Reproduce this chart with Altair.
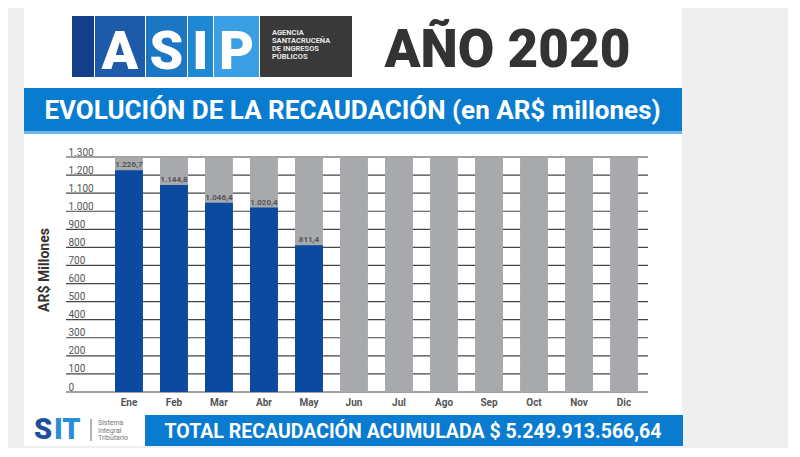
import altair as alt
import pandas as pd

# ---- data -------------------------------------------------------------
months = ["Ene", "Feb", "Mar", "Abr", "May", "Jun", "Jul", "Ago", "Sep", "Oct", "Nov", "Dic"]
values = [1226.7, 1144.8, 1046.4, 1020.4, 811.4, None, None, None, None, None, None, None]
value_labels = ["1.226,7", "1.144,8", "1.046,4", "1.020,4", "811,4", "", "", "", "", "", "", ""]
axis_max = 1300
y_ticks = [0, 100, 200, 300, 400, 500, 600, 700, 800, 900, 1000, 1100, 1200, 1300]

title_text = "EVOLUCIÓN DE LA RECAUDACIÓN (en AR$ millones)"
year_text = "AÑO 2020"
total_text = "TOTAL RECAUDACIÓN ACUMULADA $ 5.249.913.566,64"
y_title = "AR$ Millones"
logo_letters = ["A", "S", "I", "P"]
logo_caption = ["AGENCIA", "SANTACRUCEÑA", "DE INGRESOS", "PÚBLICOS"]
sit_caption = ["Sistema", "Integral", "Tributario"]

df = pd.DataFrame({"mes": months, "valor": values, "etiqueta": value_labels,
                   "tope": [axis_max] * len(months)})
ticks_df = pd.DataFrame({"tick": y_ticks})
one = pd.DataFrame({"k": [0]})

# ---- styles -----------------------------------------------------------
FONT = "Roboto"
W, H = 582, 235
BLUE_BAR = "#0b4a9f"
GRAY_BAR = "#a7a9ac"
BANNER = "#0a7ccf"

x_scale = alt.Scale(paddingInner=0.38, paddingOuter=0.656, align=0.83)
y_scale = alt.Scale(domain=[0, axis_max], nice=False, zero=True)
y_axis = alt.Axis(
    values=y_ticks, labelExpr="replace(format(datum.value, ',d'), ',', '.')",
    labelAlign="left", labelPadding=-2, labelBaseline="alphabetic", labelOffset=-2,
    labelOverlap=False, labelFlush=False,
    domain=False, ticks=False, tickSize=0, grid=False, labelFont=FONT,
    labelFontSize=10, labelColor="#555555", title=None, zindex=1)


def rect(x, x2, y, y2, color):
    return alt.Chart(one).mark_rect(color=color).encode(
        x=alt.value(x), x2=alt.value(x2), y=alt.value(y), y2=alt.value(y2))


def text(txt, x, y, size, color, weight="bold", align="center", baseline="alphabetic",
         angle=0, line_height=None):
    kw = dict(fontSize=size, color=color, fontWeight=weight, align=align,
              baseline=baseline, font=FONT)
    if angle:
        kw["angle"] = angle
    if line_height:
        kw["lineHeight"] = line_height
    return alt.Chart(one).mark_text(**kw).encode(
        x=alt.value(x), y=alt.value(y), text=alt.value(txt))


layers = []
# white card
layers.append(rect(-42, 616, -152, 289, "white"))

# ASIP logo
layers.append(rect(6, 28, -141, -80, "#143f88"))
layers.append(rect(29, 79, -141, -80, "#1d5aaa"))
layers.append(rect(80, 121, -141, -80, "#1b76c3"))
layers.append(rect(122, 147, -141, -80, "#1f88d3"))
layers.append(rect(148, 193, -141, -80, "#3a9fe3"))
layers.append(rect(194, 286, -141, -80, "#393939"))
for letter, cx in zip(logo_letters, [54, 100.5, 134.5, 170.5]):
    layers.append(text(letter, cx, -88, 54, "white", weight=900))
layers.append(text(logo_caption, 206, -128, 7.5, "#e6e6e6", align="left",
                   baseline="top", line_height=8))

# year
layers.append(text(year_text, 441.5, -90, 53, "#333333", weight=900))

# top banner
layers.append(rect(-42, 616, -69, -26, BANNER))
layers.append(rect(-42, 616, -26, -23, "#6fb5ea"))
layers.append(text(title_text, 286.5, -38, 26, "white"))

# y title
layers.append(text(y_title, -21, 113, 14, "#333333", angle=270, baseline="middle"))

# gridlines (carry the y axis)
layers.append(alt.Chart(ticks_df).mark_rule(color="#454545", strokeWidth=1.2).encode(
    y=alt.Y("tick:Q", scale=y_scale, axis=y_axis),
    x=alt.value(0), x2=alt.value(W)))

x_enc = alt.X("mes:N", sort=months, scale=x_scale, axis=alt.Axis(
    labelAngle=0, labelFont=FONT, labelFontSize=10, labelColor="#555555",
    labelFontWeight="bold", labelPadding=5, domain=False, ticks=False, tickSize=0,
    grid=False, title=None, zindex=1))

# background bars
layers.append(alt.Chart(df).mark_bar(color=GRAY_BAR).encode(
    x=x_enc, y=alt.Y("tope:Q", scale=y_scale, axis=y_axis)))
# value bars
layers.append(alt.Chart(df).transform_filter("isValid(datum.valor)").mark_bar(
    color=BLUE_BAR).encode(x=x_enc, y=alt.Y("valor:Q", scale=y_scale, axis=y_axis)))
# value labels
layers.append(alt.Chart(df).transform_filter("isValid(datum.valor)").mark_text(
    font=FONT, fontSize=8, fontWeight="bold", color="#555555", dy=-5).encode(
    x=x_enc, y=alt.Y("valor:Q", scale=y_scale, axis=y_axis), text="etiqueta:N"))

# bottom: SIT logo
layers.append(text("S", -32, 282, 29, "#1f4f9c", weight=900, align="left"))
layers.append(text("IT", -12, 282, 29, "#2b8fd8", weight=900, align="left"))
layers.append(alt.Chart(one).mark_rule(color="#9a9a9a", strokeWidth=1.5).encode(
    x=alt.value(25), y=alt.value(262), y2=alt.value(284)))
layers.append(text(sit_caption, 32, 262, 7, "#777777", weight="normal", align="left",
                   baseline="top", line_height=7.5))

# bottom banner
layers.append(rect(79, 617, 258, 289, BANNER))
layers.append(text(total_text, 347, 281, 19.5, "white"))

chart = alt.layer(*layers).properties(
    width=W, height=H,
    autosize=alt.AutoSizeParams(type="none"),
    padding={"left": 58, "top": 149, "right": 140, "bottom": 56},
).configure(background="#efefef").configure_view(stroke=None).configure_axisY(
    labelOverlap=False)

chart.save("out.html", embed_options={"renderer": "svg", "actions": False})
